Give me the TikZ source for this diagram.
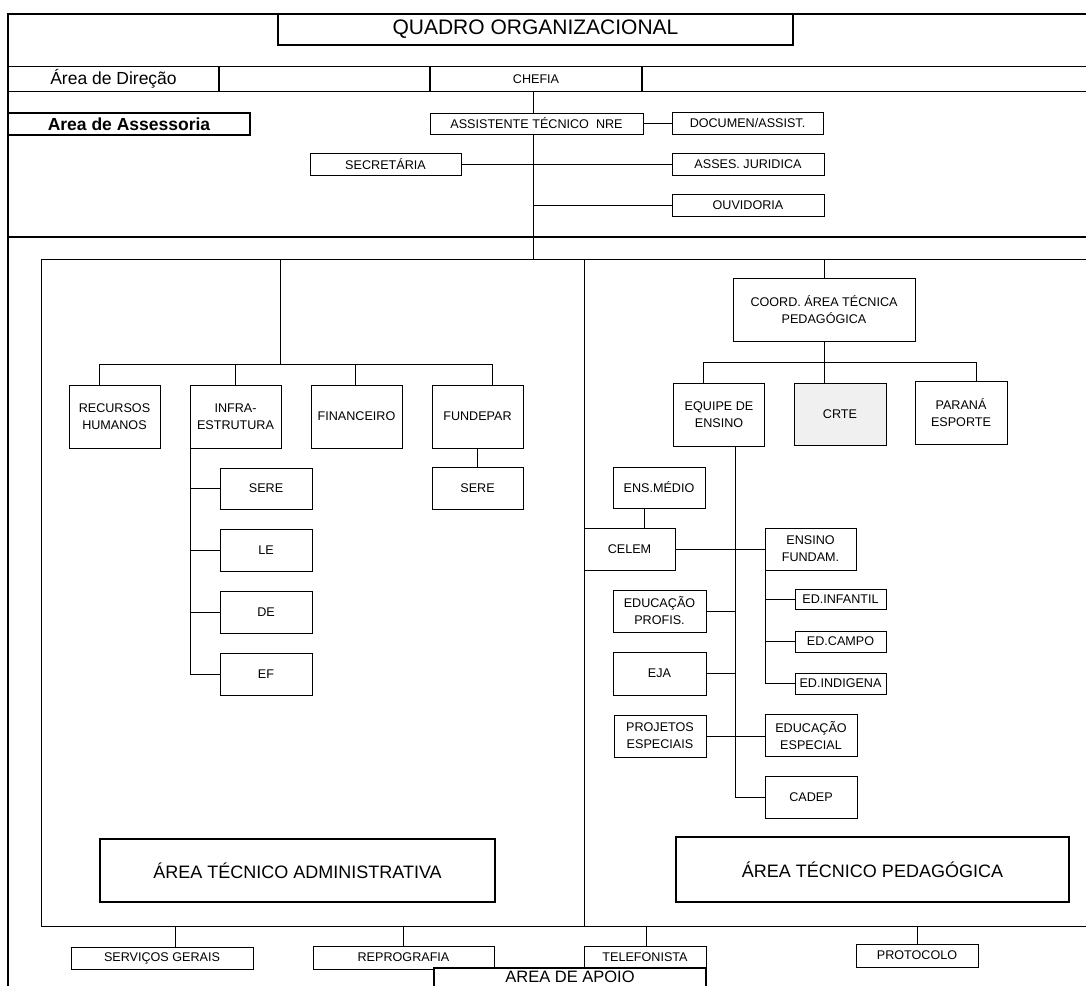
\documentclass[tikz,border=0pt]{standalone}
\usepackage{fontspec}
\setmainfont{Liberation Sans}
\usetikzlibrary{calc}
\begin{document}
\begin{tikzpicture}[x=1pt,y=-1pt,
  box/.style={draw, line width=0.9pt, fill=white, inner sep=0pt, outer sep=0pt,
              align=center, font=\fontsize{12.6}{17}\selectfont},
  heavybox/.style={box, line width=1.8pt},
  shaded/.style={box, fill=gray!12},
  link/.style={line width=0.9pt},
  rule/.style={line width=1.2pt},
  bigtext/.style={font=\fontsize{18}{20}\selectfont},
]
\useasboundingbox (0,0) rectangle (1086,985);
\fill[white] (0,0) rectangle (1086,985);

% ---------- outer frame and horizontal bands ----------
\draw[line width=1.8pt] (1092,14) -- (8,14) -- (8,992);
\draw[rule] (8,66.5) -- (1092,66.5);
\draw[rule] (8,91.5) -- (1092,91.5);
\draw[line width=2.4pt] (8,237) -- (1092,237);

% inner frame holding the two technical areas
\draw[link] (1092,259) -- (41,259) -- (41,926) -- (1092,926);
\draw[link] (584,259) -- (584,926);

% ---------- title and direction ----------
\node[heavybox, minimum width=515pt, minimum height=31pt, font=\fontsize{21}{24}\selectfont]
  (title) at (535.5,29.5) {QUADRO ORGANIZACIONAL};
\node[heavybox, minimum width=211pt, minimum height=25pt, font=\fontsize{17.5}{20}\selectfont]
  (direcao) at (113.5,79) {Área de Direção};
\node[heavybox, minimum width=212pt, minimum height=25pt] (chefia) at (536,79) {CHEFIA};
\node[heavybox, minimum width=242pt, minimum height=22pt, font=\bfseries\fontsize{17.5}{20}\selectfont]
  (assessoria) at (129,124) {Area de Assessoria};

% ---------- advisory area ----------
\node[box, minimum width=213pt, minimum height=21pt] (assist) at (536.5,123.5) {ASSISTENTE TÉCNICO\ \ NRE};
\node[box, minimum width=151pt, minimum height=22pt] (documen) at (747.5,123) {DOCUMEN/ASSIST.};
\node[box, minimum width=151pt, minimum height=22pt] (secretaria) at (385.5,164.5) {SECRETÁRIA};
\node[box, minimum width=152pt, minimum height=22pt] (juridica) at (748,164) {ASSES. JURIDICA};
\node[box, minimum width=152pt, minimum height=22pt] (ouvidoria) at (748,205) {OUVIDORIA};

\coordinate (hub) at (533,259);
\draw[link] (chefia.south -| hub) -- (assist.north -| hub);
\draw[link] (assist.south -| hub) -- (hub);
\draw[link] (assist.east) -- (assist.east -| documen.west);
\draw[link] (secretaria.east) -- (secretaria.east -| juridica.west);
\draw[link] (ouvidoria.west -| hub) -- (ouvidoria.west);

% ---------- technical-administrative area ----------
\node[box, minimum width=91pt, minimum height=63pt] (rh) at (114.5,416.5) {RECURSOS\\HUMANOS};
\node[box, minimum width=91pt, minimum height=63pt] (infra) at (235.5,416.5) {INFRA-\\ESTRUTURA};
\node[box, minimum width=91pt, minimum height=63pt] (fin) at (356.5,416.5) {FINANCEIRO};
\node[box, minimum width=91pt, minimum height=63pt] (fundepar) at (477.5,416.5) {FUNDEPAR};

\coordinate (admtop) at (280,259);
\coordinate (admbar) at (280,364);
\coordinate (bRH) at (99,364);
\coordinate (bIN) at (235.5,364);
\coordinate (bFI) at (355,364);
\coordinate (bFU) at (492,364);
\draw[link] (admtop) -- (admbar);
\draw[link] (bRH) -- (bFU);
\draw[link] (bRH) -- (bRH |- rh.north);
\draw[link] (bIN) -- (bIN |- infra.north);
\draw[link] (bFI) -- (bFI |- fin.north);
\draw[link] (bFU) -- (bFU |- fundepar.north);

\node[box, minimum width=92pt, minimum height=41pt] (sereA) at (266,488.5) {SERE};
\node[box, minimum width=92pt, minimum height=42pt] (le) at (266,550) {LE};
\node[box, minimum width=92pt, minimum height=42pt] (de) at (266,612) {DE};
\node[box, minimum width=92pt, minimum height=42pt] (ef) at (266,674) {EF};
\draw[link] (infra.south west) -- (infra.south west |- ef.west) -- (ef.west);
\draw[link] (infra.south west |- sereA.west) -- (sereA.west);
\draw[link] (infra.south west |- le.west) -- (le.west);
\draw[link] (infra.south west |- de.west) -- (de.west);

\node[box, minimum width=91pt, minimum height=42pt] (sereB) at (477.5,488) {SERE};
\draw[link] (fundepar.south) -- (sereB.north);

\node[heavybox, bigtext, minimum width=395pt, minimum height=63pt] (adm) at (297.5,870.5)
  {ÁREA TÉCNICO ADMINISTRATIVA};

% ---------- technical-pedagogical area ----------
\coordinate (pedtop) at (824,259);
\node[box, minimum width=182pt, minimum height=63pt] (coord) at (824,309.5)
  {COORD. ÁREA TÉCNICA\\PEDAGÓGICA};
\draw[link] (pedtop) -- (coord.north);

\coordinate (pedbar) at (824,362);
\coordinate (bEQ) at (703,362);
\coordinate (bPA) at (976,362);
\draw[link] (coord.south) -- (pedbar);
\draw[link] (bEQ) -- (bPA);

\node[box, minimum width=91pt, minimum height=63pt] (equipe) at (719,414.5) {EQUIPE DE\\ENSINO};
\node[shaded, minimum width=92pt, minimum height=62pt] (crte) at (840,414) {CRTE};
\node[box, minimum width=92pt, minimum height=63pt] (parana) at (961,412.5) {PARANÁ\\ESPORTE};
\draw[link] (bEQ) -- (bEQ |- equipe.north);
\draw[link] (pedbar) -- (pedbar |- crte.north);
\draw[link] (bPA) -- (bPA |- parana.north);

\node[box, minimum width=92pt, minimum height=41pt] (ensmedio) at (659,487.5) {ENS.MÉDIO};
\node[box, minimum width=91pt, minimum height=42pt] (celem) at (629.5,549) {CELEM};
\node[box, minimum width=91pt, minimum height=42pt] (ensfund) at (810.5,549) {ENSINO\\FUNDAM.};
\node[box, minimum width=91pt, minimum height=20pt] (edinf) at (840.5,599) {ED.INFANTIL};
\node[box, minimum width=91pt, minimum height=21pt] (edcampo) at (840.5,641.5) {ED.CAMPO};
\node[box, minimum width=91pt, minimum height=21pt] (edind) at (840.5,683.5) {ED.INDIGENA};
\node[box, minimum width=93pt, minimum height=42pt] (edprof) at (659.5,611) {EDUCAÇÃO\\PROFIS.};
\node[box, minimum width=93pt, minimum height=43pt] (eja) at (659.5,673.5) {EJA};
\node[box, minimum width=92pt, minimum height=42pt] (projetos) at (660,736) {PROJETOS\\ESPECIAIS};
\node[box, minimum width=92pt, minimum height=42pt] (edesp) at (811,735.5) {EDUCAÇÃO\\ESPECIAL};
\node[box, minimum width=92pt, minimum height=42pt] (cadep) at (811,797) {CADEP};

% teaching team trunk
\coordinate (eqend) at (735,797);
\draw[link] (equipe.south -| eqend) -- (eqend) -- (cadep.west);
\coordinate (emx) at (644,0);
\draw[link] (ensmedio.south -| emx) -- (celem.north -| emx);
\draw[link] (celem.east) -- (celem.east -| ensfund.west);
\draw[link] (edprof.east) -- (edprof.east -| eqend);
\draw[link] (eja.east) -- (eja.east -| eqend);
\draw[link] (projetos.east) -- (projetos.east -| edesp.west);

% elementary school branch
\draw[link] (ensfund.south west) -- (ensfund.south west |- edind.west) -- (edind.west);
\draw[link] (ensfund.south west |- edinf.west) -- (edinf.west);
\draw[link] (ensfund.south west |- edcampo.west) -- (edcampo.west);

\node[heavybox, bigtext, minimum width=393pt, minimum height=65pt] (ped) at (872.5,869.5)
  {ÁREA TÉCNICO PEDAGÓGICA};

% ---------- support area ----------
\node[box, minimum width=182pt, minimum height=22pt] (servicos) at (162,958) {SERVIÇOS GERAIS};
\node[box, minimum width=181pt, minimum height=23pt] (reprografia) at (403.5,957.5) {REPROGRAFIA};
\node[box, minimum width=122pt, minimum height=22pt] (telefonista) at (645,957) {TELEFONISTA};
\node[box, minimum width=122pt, minimum height=23pt] (protocolo) at (917,955.5) {PROTOCOLO};

\coordinate (dSG) at (175,926);
\coordinate (dRE) at (403,926);
\coordinate (dTE) at (646,926);
\coordinate (dPR) at (917,926);
\draw[link] (dSG) -- (dSG |- servicos.north);
\draw[link] (dRE) -- (dRE |- reprografia.north);
\draw[link] (dTE) -- (dTE |- telefonista.north);
\draw[link] (dPR) -- (dPR |- protocolo.north);

\node[heavybox, minimum width=272pt, minimum height=32pt] (apoio) at (570,984) {};
\path (apoio.north) ++(0,3.2) node[anchor=north, inner sep=0pt, font=\fontsize{16.5}{19}\selectfont]
  (apoiolbl) {AREA DE APOIO};
\end{tikzpicture}
\end{document}
